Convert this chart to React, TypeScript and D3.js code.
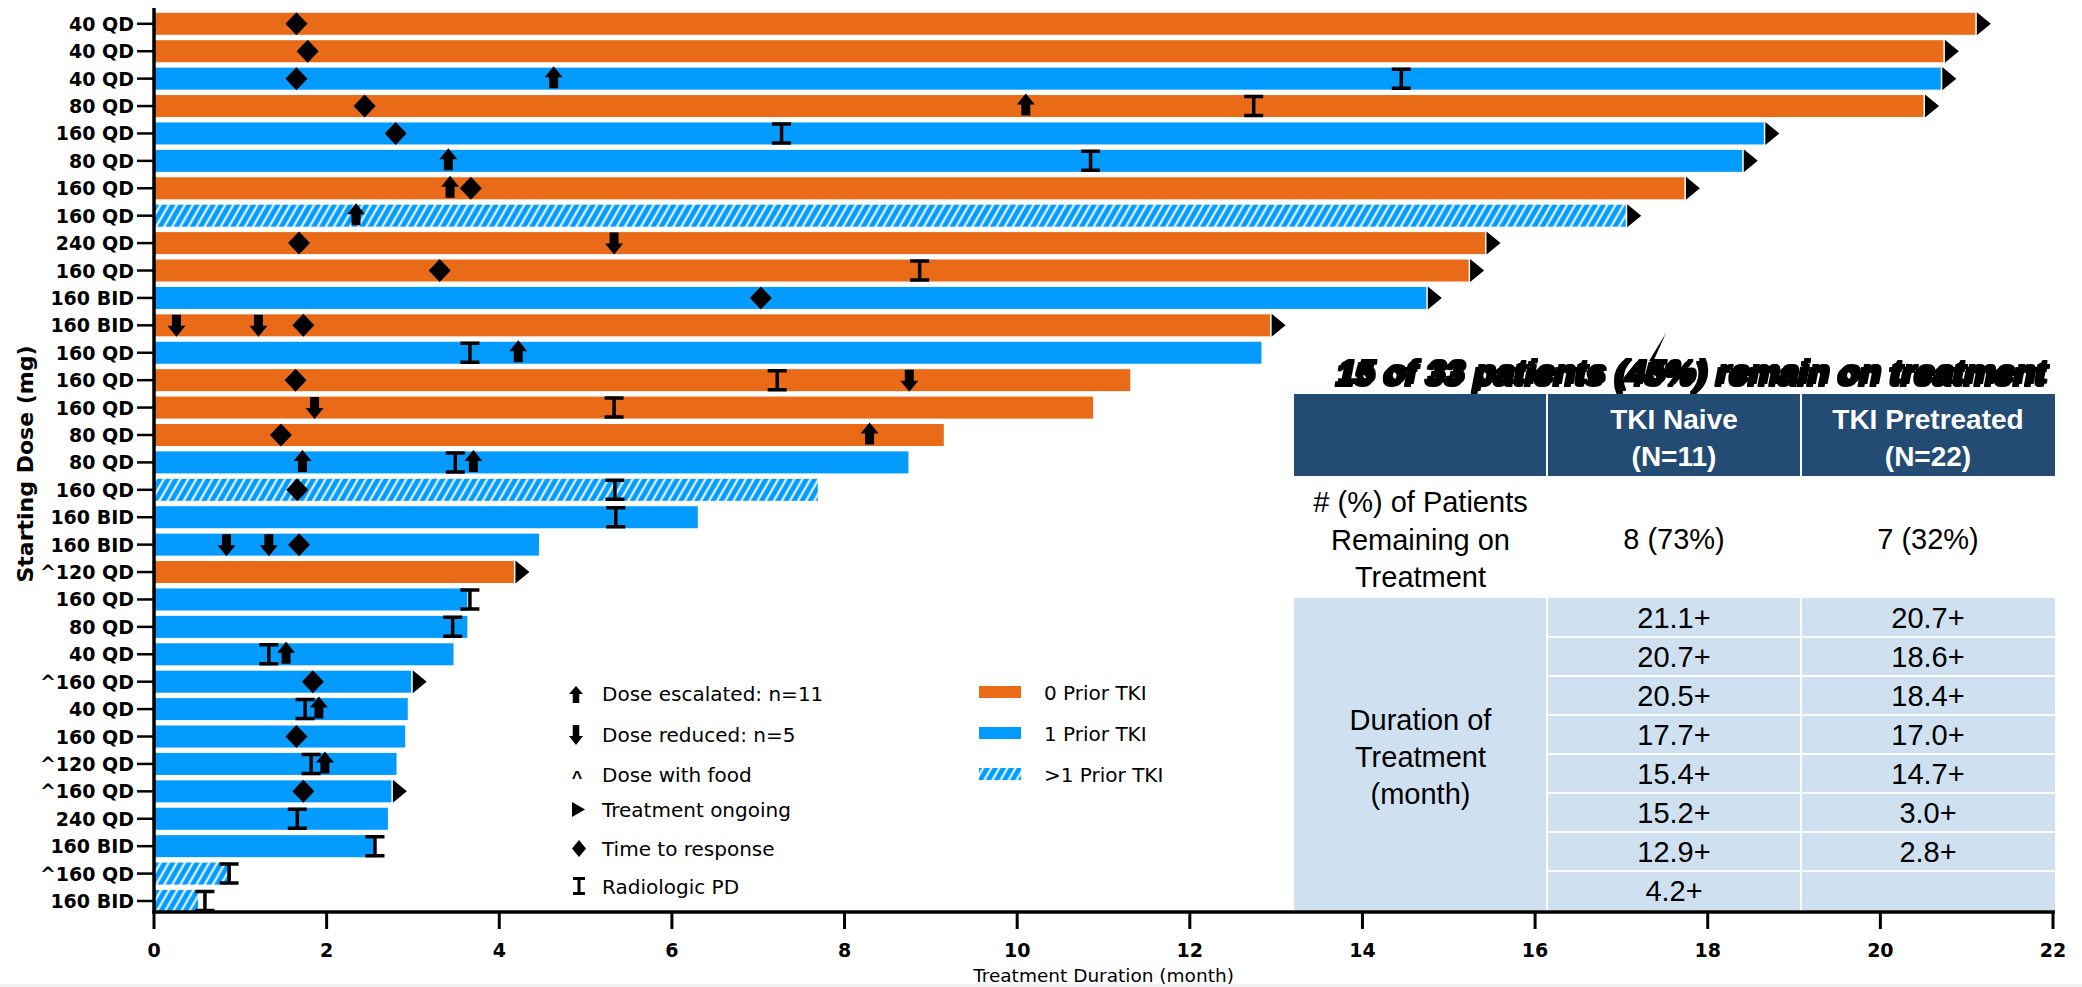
import React from "react";
import * as d3 from "d3";

// ---------- data ----------
const doses = ["40 QD","40 QD","40 QD","80 QD","160 QD","80 QD","160 QD","160 QD","240 QD","160 QD","160 BID","160 BID","160 QD","160 QD","160 QD","80 QD","80 QD","160 QD","160 BID","160 BID","^120 QD","160 QD","80 QD","40 QD","^160 QD","40 QD","160 QD","^120 QD","^160 QD","240 QD","160 BID","^160 QD","160 BID"];
// 0 = 0 prior TKI, 1 = 1 prior TKI, 2 = >1 prior TKI
const priorTKI = [0,0,1,0,1,1,0,2,0,0,1,0,1,0,0,0,1,2,1,1,0,1,1,1,1,1,1,1,1,1,1,2,2];
const durations = [21.1,20.73,20.7,20.5,18.65,18.4,17.73,17.05,15.42,15.23,14.74,12.93,12.83,11.31,10.88,9.15,8.74,7.69,6.3,4.46,4.17,3.63,3.63,3.47,2.98,2.94,2.91,2.81,2.75,2.71,2.55,0.89,0.51];
const ongoing = [1,1,1,1,1,1,1,1,1,1,1,1,0,0,0,0,0,0,0,0,1,0,0,0,1,0,0,0,1,0,0,0,0];
// [row index, month]
const escalations = [[2,4.63],[3,10.1],[5,3.41],[6,3.43],[7,2.34],[12,4.22],[15,8.29],[16,1.72],[16,3.7],[23,1.53],[25,1.91],[27,1.98]];
const reductions = [[8,5.33],[11,0.26],[11,1.21],[13,8.75],[14,1.86],[19,0.84],[19,1.33]];
const responses = [[0,1.65],[1,1.78],[2,1.65],[3,2.44],[4,2.8],[6,3.67],[8,1.68],[9,3.31],[10,7.03],[11,1.73],[13,1.64],[15,1.47],[17,1.66],[19,1.68],[24,1.84],[26,1.65],[28,1.73]];
const progressions = [[2,14.45],[3,12.74],[4,7.27],[5,10.85],[9,8.87],[12,3.66],[13,7.22],[14,5.33],[16,3.49],[17,5.34],[18,5.35],[21,3.66],[22,3.46],[23,1.33],[25,1.75],[27,1.82],[29,1.66],[30,2.56],[31,0.87],[32,0.59]];
const xTicks = [0,2,4,6,8,10,12,14,16,18,20,22];

const tableTitle = "15 of 33 patients (45%) remain on treatment";
const colHeaders = [["TKI Naive","(N=11)"],["TKI Pretreated","(N=22)"]];
const remainingLabel = ["# (%) of Patients","Remaining on","Treatment"];
const remainingValues = ["8 (73%)","7 (32%)"];
const durationLabel = ["Duration of","Treatment","(month)"];
const naiveDurations = ["21.1+","20.7+","20.5+","17.7+","15.4+","15.2+","12.9+","4.2+"];
const pretreatedDurations = ["20.7+","18.6+","18.4+","17.0+","14.7+","3.0+","2.8+",""];

const markerLegend = ["Dose escalated: n=11","Dose reduced: n=5","Dose with food","Treatment ongoing","Time to response","Radiologic PD"];
const barLegend = ["0 Prior TKI","1 Prior TKI",">1 Prior TKI"];

// ---------- style ----------
const ORANGE = "#EA6B17";
const BLUE = "#049BFE";
const DARK = "#234B73";
const LIGHT = "#CFE1F1";
const CHART_FONT = "'DejaVu Sans', sans-serif";
const TABLE_FONT = "'Liberation Sans', Arial, sans-serif";

function arrowPath(px: number, top: number, bottom: number, hw: number, hh: number, sw: number, up: boolean) {
  if (up) {
    return `M${px},${top}L${px + hw / 2},${top + hh}L${px + sw / 2},${top + hh}L${px + sw / 2},${bottom}L${px - sw / 2},${bottom}L${px - sw / 2},${top + hh}L${px - hw / 2},${top + hh}Z`;
  }
  return `M${px},${bottom}L${px + hw / 2},${bottom - hh}L${px + sw / 2},${bottom - hh}L${px + sw / 2},${top}L${px - sw / 2},${top}L${px - sw / 2},${bottom - hh}L${px - hw / 2},${bottom - hh}Z`;
}
function diamondPath(px: number, py: number, w: number, h: number) {
  return `M${px},${py - h / 2}L${px + w / 2},${py}L${px},${py + h / 2}L${px - w / 2},${py}Z`;
}
function ibeamPath(px: number, py: number, w: number, h: number) {
  return `M${px - w / 2},${py - h / 2}H${px + w / 2}M${px},${py - h / 2}V${py + h / 2}M${px - w / 2},${py + h / 2}H${px + w / 2}`;
}
function triPath(x0: number, py: number, w: number, h: number) {
  return `M${x0},${py - h / 2}L${x0 + w},${py}L${x0},${py + h / 2}Z`;
}

export default function App() {
  const W = 2082, H = 987;
  const x = d3.scaleLinear().domain([0, 22]).range([154, 2053]);
  const rows = d3.range(doses.length);
  const y = d3.scaleBand<number>().domain(rows).range([12.8, 912]).paddingInner(0.197).paddingOuter(0);
  const bw = y.bandwidth();
  const cy = (i: number) => (y(i) as number) + bw / 2;
  const fillFor = (t: number) => (t === 0 ? ORANGE : t === 1 ? BLUE : "url(#hatch)");

  // table geometry
  const tL = 1294, tC1 = 1547, tC2 = 1801, tR = 2055;
  const hTop = 394, hBot = 476, lbTop = 598, lbBot = 910;
  const rowH = (lbBot - lbTop) / naiveDurations.length;
  const c1 = (tL + tC1) / 2, c2 = (tC1 + tC2) / 2, c3 = (tC2 + tR) / 2;

  const legendY = [694, 735, 776, 809.5, 848.5, 886];
  const legendTextY = [701, 742, 782, 817, 856, 894];
  const lx = 577;

  return (
    <div>
      <style>{`body{margin:0;background:#fff}`}</style>
      <svg width={W} height={H} style={{ display: "block" }}>
        <defs>
          <pattern id="hatch" patternUnits="userSpaceOnUse" width="7" height="7" patternTransform="rotate(30)">
            <rect width="7" height="7" fill={BLUE} />
            <line x1="3.5" y1="0" x2="3.5" y2="7" stroke="#fff" strokeWidth="2" />
          </pattern>
          <filter id="heavy" x="-5%" y="-40%" width="110%" height="180%">
            <feMorphology in="SourceAlpha" operator="dilate" radius="1.2" result="thick" />
            <feOffset in="thick" dx="-3" dy="3" result="shadow" />
            <feMerge>
              <feMergeNode in="shadow" />
              <feMergeNode in="thick" />
              <feMergeNode in="SourceGraphic" />
            </feMerge>
          </filter>
        </defs>
        <rect x={0} y={0} width={W} height={H} fill="#fff" />
        <rect x={0} y={984} width={W} height={3} fill="#F1F1F4" />

        {/* bars */}
        {rows.map((i) => (
          <rect key={"b" + i} x={x(0)} y={y(i)} width={x(durations[i]) - x(0)} height={bw} fill={fillFor(priorTKI[i])} />
        ))}
        {/* ongoing triangles */}
        {rows.filter((i) => ongoing[i]).map((i) => (
          <path key={"t" + i} d={triPath(x(durations[i]) + 1.5, cy(i), 14, bw + 1)} fill="#000" />
        ))}
        {/* PD */}
        {progressions.map(([r, m], k) => (
          <path key={"p" + k} d={ibeamPath(x(m), cy(r), 19, 19)} stroke="#000" strokeWidth={3.5} fill="none" />
        ))}
        {/* responses */}
        {responses.map(([r, m], k) => (
          <path key={"r" + k} d={diamondPath(x(m), cy(r), 22, 23)} fill="#000" />
        ))}
        {/* escalations */}
        {escalations.map(([r, m], k) => (
          <path key={"e" + k} d={arrowPath(x(m), cy(r) - 12.5, cy(r) + 9.5, 18, 11, 9, true)} fill="#000" />
        ))}
        {reductions.map(([r, m], k) => (
          <path key={"d" + k} d={arrowPath(x(m), cy(r) - 10.5, cy(r) + 11.5, 18, 11, 9, false)} fill="#000" />
        ))}

        {/* y axis */}
        <line x1={154} y1={8} x2={154} y2={913.5} stroke="#000" strokeWidth={3.5} />
        {rows.map((i) => (
          <g key={"yt" + i}>
            <line x1={137} x2={154} y1={cy(i)} y2={cy(i)} stroke="#000" strokeWidth={2.5} />
            <text x={134} y={cy(i) + 7} textAnchor="end" fontFamily={CHART_FONT} fontWeight="bold" fontSize={19} fill="#000">
              {doses[i]}
            </text>
          </g>
        ))}
        <text transform="translate(33,464) rotate(-90)" textAnchor="middle" fontFamily={CHART_FONT} fontWeight="bold" fontSize={22} fill="#000">
          Starting Dose (mg)
        </text>

        {/* x axis */}
        <line x1={152.3} y1={912} x2={2055} y2={912} stroke="#000" strokeWidth={3.5} />
        {xTicks.map((t) => (
          <g key={"xt" + t}>
            <line x1={x(t)} x2={x(t)} y1={912} y2={929} stroke="#000" strokeWidth={3} />
            <text x={x(t)} y={957} textAnchor="middle" fontFamily={CHART_FONT} fontWeight="bold" fontSize={19} fill="#000">
              {t}
            </text>
          </g>
        ))}
        <text x={(x(0) + x(22)) / 2} y={982} textAnchor="middle" fontFamily={CHART_FONT} fontSize={18.5} fill="#000">
          Treatment Duration (month)
        </text>

        {/* marker legend */}
        <path d={arrowPath(lx - 1, 686, 703, 14, 8, 6.5, true)} fill="#000" />
        <path d={arrowPath(lx - 1, 725, 745, 14, 9, 6.5, false)} fill="#000" />
        <text x={lx} y={legendTextY[2] + 2} textAnchor="middle" fontFamily={TABLE_FONT} fontWeight="bold" fontSize={18} fill="#000">^</text>
        <path d={triPath(572, legendY[3], 13, 15)} fill="#000" />
        <path d={diamondPath(lx + 2, legendY[4], 14, 17)} fill="#000" />
        <path d={ibeamPath(lx + 2, legendY[5], 12, 15)} stroke="#000" strokeWidth={3} fill="none" />
        {markerLegend.map((s, k) => (
          <text key={"ml" + k} x={602} y={legendTextY[k]} fontFamily={CHART_FONT} fontSize={20} fill="#000">
            {s}
          </text>
        ))}
        {/* bar legend */}
        {barLegend.map((s, k) => (
          <g key={"bl" + k}>
            <rect x={979} y={686 + k * 41} width={42} height={12} fill={fillFor(k)} />
            <text x={1044} y={700 + k * 41} fontFamily={CHART_FONT} fontSize={20} fill="#000">
              {s}
            </text>
          </g>
        ))}

        {/* table */}
        <g fontFamily={TABLE_FONT}>
          <path d="M1649,361 L1666,333 L1653,362 Z" fill="#000" />
          <text x={1693} y={383} textAnchor="middle" fontWeight="bold" fontStyle="italic" fontSize={34} fill="#000" filter="url(#heavy)" textLength={710} lengthAdjust="spacingAndGlyphs">
            {tableTitle}
          </text>

          <rect x={tL} y={hTop} width={tR - tL} height={hBot - hTop} fill={DARK} />
          <rect x={tL} y={lbTop} width={tR - tL} height={lbBot - lbTop} fill={LIGHT} />
          {[tC1, tC2].map((cx) => (
            <g key={"sep" + cx}>
              <line x1={cx} x2={cx} y1={hTop} y2={hBot} stroke="#fff" strokeWidth={2} />
              <line x1={cx} x2={cx} y1={lbTop} y2={lbBot} stroke="#fff" strokeWidth={2} />
            </g>
          ))}
          {d3.range(1, naiveDurations.length).map((k) => (
            <line key={"hs" + k} x1={tC1} x2={tR} y1={lbTop + k * rowH} y2={lbTop + k * rowH} stroke="#fff" strokeWidth={2} />
          ))}
          {colHeaders.map((hdr, k) => (
            <g key={"ch" + k}>
              <text x={k === 0 ? c2 : c3} y={429} textAnchor="middle" fontWeight="bold" fontSize={28} fill="#fff">{hdr[0]}</text>
              <text x={k === 0 ? c2 : c3} y={466} textAnchor="middle" fontWeight="bold" fontSize={28} fill="#fff">{hdr[1]}</text>
            </g>
          ))}
          {remainingLabel.map((s, k) => (
            <text key={"rl" + k} x={c1} y={512 + k * 37.5} textAnchor="middle" fontSize={29} fill="#000">{s}</text>
          ))}
          <text x={c2} y={549} textAnchor="middle" fontSize={29} fill="#000">{remainingValues[0]}</text>
          <text x={c3} y={549} textAnchor="middle" fontSize={29} fill="#000">{remainingValues[1]}</text>
          {durationLabel.map((s, k) => (
            <text key={"dl" + k} x={c1} y={730 + k * 37} textAnchor="middle" fontSize={29} fill="#000">{s}</text>
          ))}
          {naiveDurations.map((s, k) => (
            <text key={"nd" + k} x={c2} y={lbTop + k * rowH + 30} textAnchor="middle" fontSize={29} fill="#000">{s}</text>
          ))}
          {pretreatedDurations.map((s, k) => (
            <text key={"pd" + k} x={c3} y={lbTop + k * rowH + 30} textAnchor="middle" fontSize={29} fill="#000">{s}</text>
          ))}
        </g>
      </svg>
    </div>
  );
}
